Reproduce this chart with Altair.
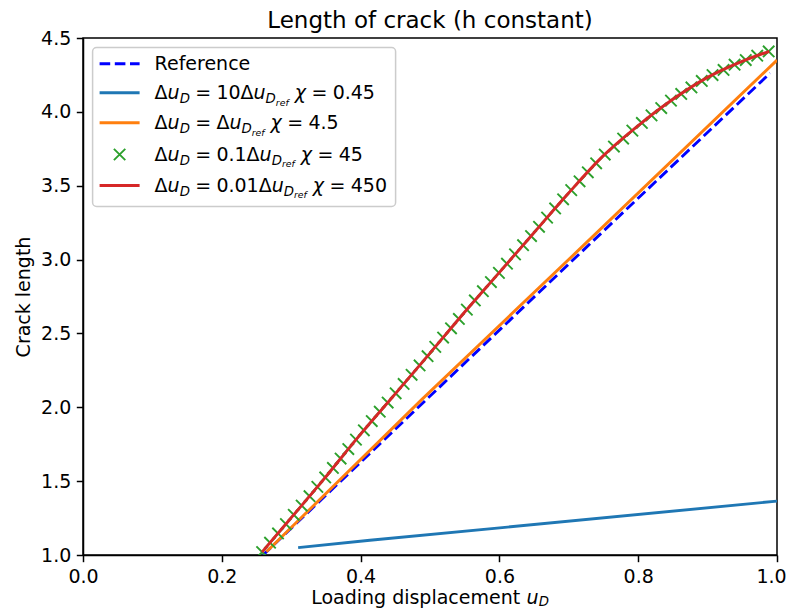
import altair as alt
import pandas as pd

# ---------------- data ----------------
x_ticks = [0.0, 0.2, 0.4, 0.6, 0.8, 1.0]
y_ticks = [1.0, 1.5, 2.0, 2.5, 3.0, 3.5, 4.0, 4.5]

ref_x = [0.2595, 0.4952, 0.7163, 0.990]
ref_y = [1.0, 2.054, 3.043, 4.262]

c10_x = [0.31, 0.4134, 0.5966, 1.0]
c10_y = [1.05, 1.10, 1.182, 1.365]

c1_x = [0.2644, 0.488, 0.7163, 1.0]
c1_y = [1.022, 2.052, 3.074, 4.35]

c01_x = [0.2581, 0.2695, 0.2810, 0.2924, 0.3037, 0.3151, 0.3264, 0.3377, 0.3490, 0.3601,
         0.3712, 0.3823, 0.3933, 0.4047, 0.4161, 0.4276, 0.4390, 0.4505, 0.4620, 0.4735,
         0.4850, 0.4965, 0.5076, 0.5189, 0.5303, 0.5416, 0.5531, 0.5646, 0.5762, 0.5878,
         0.5993, 0.6109, 0.6225, 0.6341, 0.6456, 0.6571, 0.6687, 0.6803, 0.6918, 0.7035,
         0.7155, 0.7274, 0.7394, 0.7518, 0.7650, 0.7783, 0.7916, 0.8053, 0.8192, 0.8332,
         0.8472, 0.8620, 0.8767, 0.8916, 0.9071, 0.9230, 0.9389, 0.9550, 0.9715, 0.9880]
c01_y = [1.020, 1.083, 1.146, 1.209, 1.272, 1.335, 1.398, 1.461, 1.525, 1.589,
         1.653, 1.717, 1.781, 1.844, 1.907, 1.970, 2.032, 2.095, 2.158, 2.220,
         2.283, 2.346, 2.409, 2.472, 2.535, 2.598, 2.661, 2.723, 2.786, 2.848,
         2.910, 2.972, 3.035, 3.097, 3.159, 3.222, 3.284, 3.346, 3.408, 3.470,
         3.530, 3.591, 3.652, 3.711, 3.765, 3.819, 3.873, 3.925, 3.976, 4.026,
         4.076, 4.121, 4.165, 4.209, 4.249, 4.284, 4.319, 4.351, 4.380, 4.409]

c001_x = [0.258, 0.296, 0.3465, 0.3967, 0.447, 0.497, 0.5473, 0.5975, 0.6476, 0.6978,
          0.748, 0.7982, 0.8484, 0.8986, 0.9488, 0.9889]
c001_y = [1.02, 1.23, 1.51, 1.80, 2.075, 2.35, 2.63, 2.90, 3.17, 3.44,
          3.695, 3.90, 4.08, 4.23, 4.34, 4.41]

title_text = "Length of crack (h constant)"
y_title = "Crack length"
x_title_main = "Loading displacement "
legend_first = "Reference"
legend_coefs = ["10", "", "0.1", "0.01"]
legend_chis = ["0.45", "4.5", "45", "450"]

C_REF = "#0000ff"
C_10 = "#1f77b4"
C_1 = "#ff7f0e"
C_01 = "#2ca02c"
C_001 = "#d62728"

W_PLOT, H_PLOT = 694, 517
FONT = "DejaVu Sans"
LW = 2.9

xs = alt.Scale(domain=[0, 1], nice=False, zero=False)
ys = alt.Scale(domain=[1, 4.5], nice=False, zero=False)

x_axis = alt.Axis(
    values=x_ticks, format=".1f", title=None,
    labelOffset={"condition": {"test": "datum.value >= 1", "value": -6}, "value": 0},
)
y_axis = alt.Axis(values=y_ticks, format=".1f", title=y_title)


def line_layer(xv, yv, color, dash=None, interp="linear"):
    df = pd.DataFrame({"x": xv, "y": yv})
    kw = dict(color=color, strokeWidth=LW, clip=True, interpolate=interp)
    if dash:
        kw["strokeDash"] = dash
    return alt.Chart(df).mark_line(**kw).encode(
        x=alt.X("x:Q", scale=xs, axis=x_axis),
        y=alt.Y("y:Q", scale=ys, axis=y_axis),
    )


XPATH = "M-1,-1L1,1M-1,1L1,-1"

ref_layer = line_layer(ref_x, ref_y, C_REF, dash=[10.6, 4.6])
l10 = line_layer(c10_x, c10_y, C_10)
l1 = line_layer(c1_x, c1_y, C_1)
pts01 = alt.Chart(pd.DataFrame({"x": c01_x, "y": c01_y})).mark_point(
    shape=XPATH, size=130, filled=False, color=C_01, strokeWidth=1.9, opacity=1, clip=True
).encode(x=alt.X("x:Q", scale=xs), y=alt.Y("y:Q", scale=ys))
l001 = line_layer(c001_x, c001_y, C_001, interp="monotone")

# ---------------- text layout helpers (DejaVu advance widths, em) ----------------
W = {'Δ': 0.684, '=': 0.838, '.': 0.318, ' ': 0.318, 'u': 0.634, 'D': 0.770,
     'r': 0.411, 'e': 0.615, 'f': 0.352, 'χ': 0.60, 'R': 0.695, 'n': 0.634, 'c': 0.550,
     'L': 0.557, 'o': 0.612, 'a': 0.613, 'd': 0.635, 'i': 0.278, 'g': 0.635, 's': 0.521,
     'p': 0.635, 'l': 0.278, 'm': 0.974, 't': 0.392}
for _d in "0123456789":
    W[_d] = 0.636
SIZES = {"rm": 19, "it": 19, "sub": 13.3, "ss": 9.3}
DY = {"rm": 0, "it": 0, "sub": 4.4, "ss": 6.7}


def tw(s, kind):
    return sum(W.get(ch, 0.6) for ch in s) * SIZES[kind]


pieces = []  # (px, py, text, kind)


def lay(tokens, x0, base, sub_dy=None):
    x = x0
    for t in tokens:
        if isinstance(t, (int, float)):
            x += t
            continue
        s, kind = t
        dy = DY[kind] if sub_dy is None or kind != "sub" else sub_dy
        pieces.append((x, base + dy, s, kind))
        x += tw(s, kind)
    return x


TH = 5.3  # thick math space
row_y = [25.8, 54.8, 84.8, 116.5, 147.5]
TX = 71.6
lay([(legend_first, "rm")], TX, row_y[0] + 6)
for i, (coef, chi) in enumerate(zip(legend_coefs, legend_chis)):
    toks = [("Δ", "rm"), ("u", "it"), ("D", "sub"), TH, ("=", "rm"), TH,
            (coef + "Δ", "rm"), ("u", "it"), ("D", "sub"), ("ref", "ss"), 6.04,
            ("χ", "it"), TH, ("=", "rm"), TH, (chi, "rm")]
    lay(toks, TX, row_y[i + 1] + 6)

# x axis label (with italic u and subscript D)
xl_tokens = [(x_title_main, "rm"), ("u", "it"), ("D", "sub")]
xl_w = sum(tw(s, k) for s, k in xl_tokens)
lay(xl_tokens, W_PLOT / 2 - xl_w / 2, 565.5, sub_dy=2.2)

text_layers = []
for kind in ["rm", "it", "sub", "ss"]:
    rows = [p for p in pieces if p[3] == kind]
    df = pd.DataFrame({"px": [r[0] for r in rows], "py": [r[1] for r in rows],
                       "t": [r[2] for r in rows]})
    text_layers.append(
        alt.Chart(df).mark_text(
            align="left", baseline="alphabetic", font=FONT, fontSize=SIZES[kind],
            fontStyle=("normal" if kind == "rm" else "italic"), color="black"
        ).encode(x=alt.X("px:Q", scale=None), y=alt.Y("py:Q", scale=None), text="t:N")
    )

title_layer = alt.Chart(pd.DataFrame({"t": [title_text]})).mark_text(
    align="center", baseline="alphabetic", font=FONT, fontSize=23, color="black"
).encode(x=alt.value(W_PLOT / 2), y=alt.value(-10.5), text="t:N")

one = pd.DataFrame({"a": [0]})
legend_box = alt.Chart(one).mark_rect(
    fill="white", fillOpacity=0.8, stroke="#cccccc", strokeWidth=1.5, cornerRadius=4
).encode(x=alt.value(9.6), x2=alt.value(312.6), y=alt.value(9.5), y2=alt.value(168.5))

HX0, HX1 = 16.6, 56.6


def handle(y, color, dash=None):
    kw = dict(color=color, strokeWidth=LW)
    if dash:
        kw["strokeDash"] = dash
    return alt.Chart(one).mark_rule(**kw).encode(
        x=alt.value(HX0), x2=alt.value(HX1), y=alt.value(y))


handles = [
    handle(row_y[0], C_REF, [10.6, 4.6]),
    handle(row_y[1], C_10),
    handle(row_y[2], C_1),
    alt.Chart(one).mark_point(shape=XPATH, size=130, filled=False, color=C_01,
                              strokeWidth=1.9, opacity=1).encode(
        x=alt.value((HX0 + HX1) / 2), y=alt.value(row_y[3])),
    handle(row_y[4], C_001),
]

chart = alt.layer(
    ref_layer, l10, l1, pts01, l001, legend_box, *handles, *text_layers, title_layer
).properties(
    width=W_PLOT, height=H_PLOT,
    padding={"left": 75, "top": 30, "right": 9, "bottom": 53},
    autosize="none",
    background="white",
).configure_view(
    stroke="black", strokeWidth=1.5
).configure_axis(
    grid=False, domainColor="black", domainWidth=1.5, tickColor="black", tickWidth=1.5,
    tickSize=6.7, labelPadding=5.5, labelFont=FONT, labelFontSize=19, labelColor="black",
    labelFlush=False, labelOverlap=False, titleFont=FONT, titleFontSize=19,
    titleFontWeight="normal", titleColor="black", titlePadding=7
)

chart.save("out.html", embed_options={"renderer": "svg", "actions": False})
